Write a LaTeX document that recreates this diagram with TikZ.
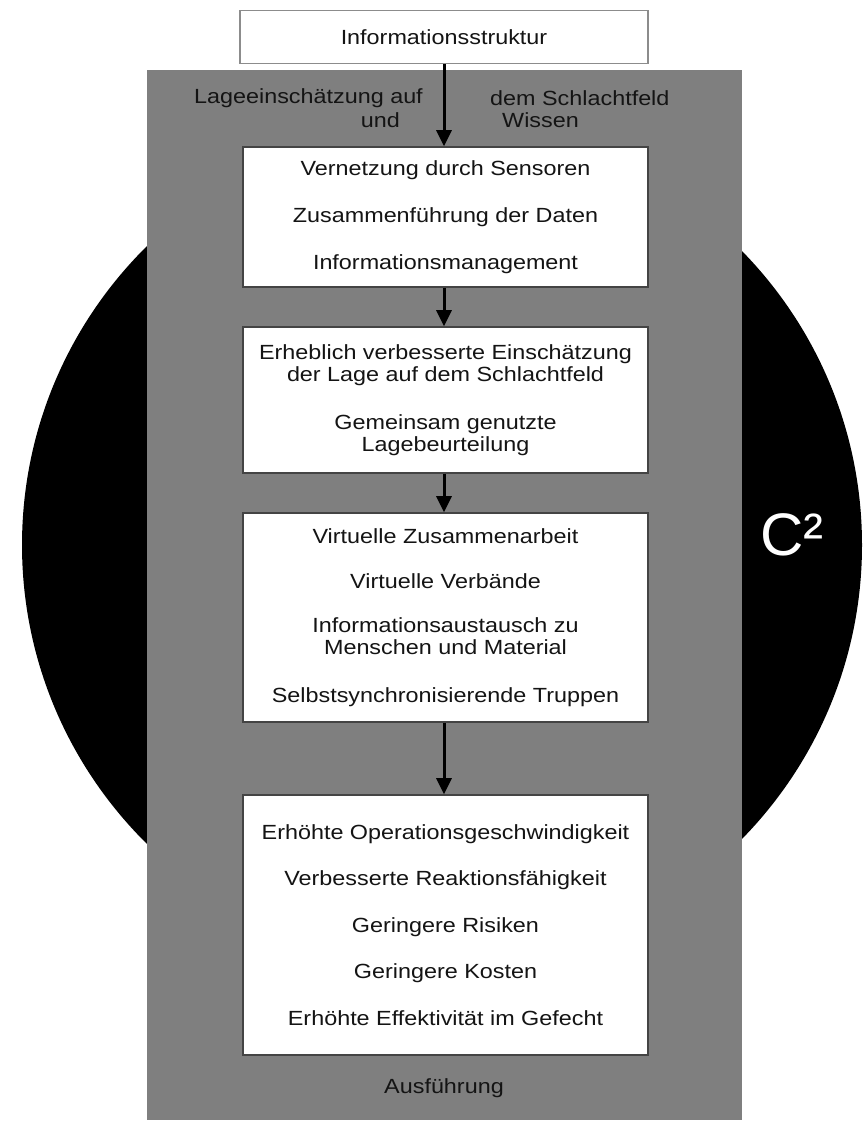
\documentclass[tikz,border=0pt]{standalone}
\usepackage{fontspec}
\setmainfont{Liberation Sans}[FakeStretch=1.14]
\newfontfamily\bigsans{Liberation Sans}
\usetikzlibrary{arrows.meta}
\definecolor{panelgray}{HTML}{7F7F7F}
\definecolor{rimgray}{HTML}{444444}
\definecolor{topgray}{HTML}{8C8C8C}
\begin{document}
\begin{tikzpicture}[x=1pt,y=-1pt,
  txt/.style={font=\fontsize{20.5}{21.5}\selectfont, text=black!92, align=center, inner sep=0pt},
  panel/.style={fill=panelgray, draw=none, minimum width=595pt, minimum height=1050pt, inner sep=0pt},
  stage/.style={txt, fill=white, draw=rimgray, line width=1.6pt, minimum width=405pt},
  topbox/.style={txt, fill=white, draw=topgray, line width=1.6pt, minimum width=408pt, minimum height=53pt},
  flow/.style={line width=3pt, black, -{Triangle[length=16pt,width=15pt]}}
]
\useasboundingbox[fill=white] (0,0) rectangle (865,1124);

% black disc behind the grey column
\fill[black] (442,545) circle[radius=420pt];

% grey column
\node[panel] (panel) at (444.5,595) {};

% information structure on top
\node[topbox] (infra) at (444,37) {Informationsstruktur};

% labels in the upper part of the column
\node[txt, anchor=east] (lageA) at (423,98) {Lageeinschätzung auf};
\node[txt, anchor=east] (lageB) at (400,120) {und};
\node[txt, anchor=west] (feldA) at (490,98) {dem Schlachtfeld};
\node[txt, anchor=west] (feldB) at (502,120) {Wissen};

% stages
\node[stage, minimum height=140pt] (s1) at (445.5,217)
  {Vernetzung durch Sensoren\\[25.5pt]
   Zusammenführung der Daten\\[25.5pt]
   Informationsmanagement};
\node[stage, minimum height=146pt] (s2) at (445.5,400)
  {Erheblich verbesserte Einschätzung\\
   der Lage auf dem Schlachtfeld\\[27pt]
   Gemeinsam genutzte\\
   Lagebeurteilung};
\node[stage, minimum height=209pt] (s3) at (445.5,617.5)
  {Virtuelle Zusammenarbeit\\[23.5pt]
   Virtuelle Verbände\\[23pt]
   Informationsaustausch zu\\
   Menschen und Material\\[27pt]
   Selbstsynchronisierende Truppen};
\node[stage, minimum height=260pt] (s4) at (445.5,925)
  {Erhöhte Operationsgeschwindigkeit\\[25pt]
   Verbesserte Reaktionsfähigkeit\\[25pt]
   Geringere Risiken\\[25pt]
   Geringere Kosten\\[25pt]
   Erhöhte Effektivität im Gefecht};

\node[txt] (exec) at (444,1088) {Ausführung};

% C2 mark on the disc
\node[text=white, font=\bigsans\fontsize{60}{60}\selectfont, inner sep=0pt] (c2) at (792,535) {C²};

% flow arrows
\draw[flow] (infra.south -| 444,0) -- (s1.north -| 444,0);
\draw[flow] (s1.south -| 444,0) -- (s2.north -| 444,0);
\draw[flow] (s2.south -| 444,0) -- (s3.north -| 444,0);
\draw[flow] (s3.south -| 444,0) -- (s4.north -| 444,0);
\end{tikzpicture}
\end{document}
